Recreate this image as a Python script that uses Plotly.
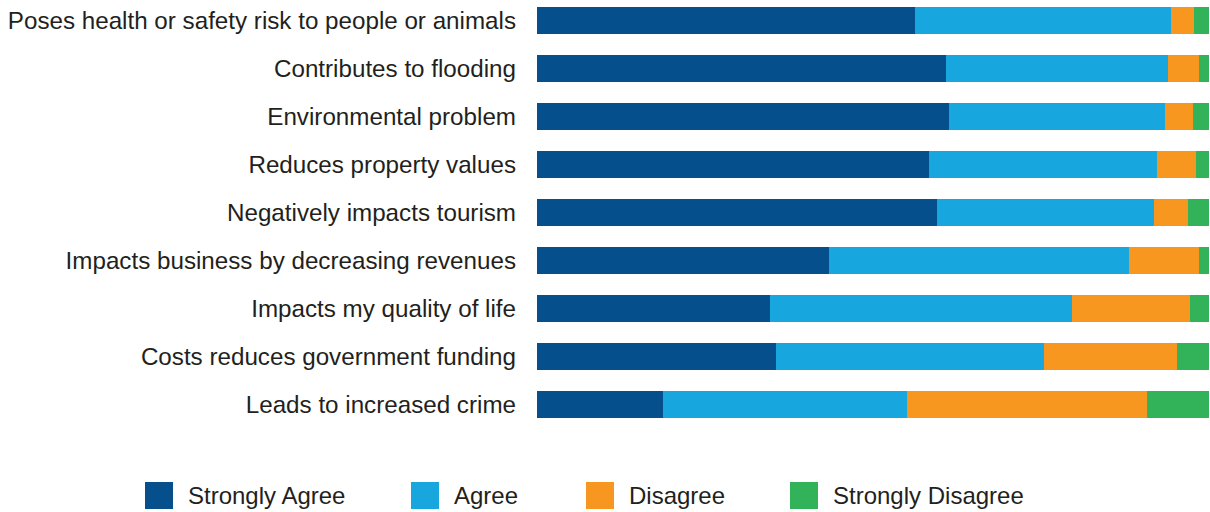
import plotly.graph_objects as go

categories = [
    "Poses health or safety risk to people or animals",
    "Contributes to flooding",
    "Environmental problem",
    "Reduces property values",
    "Negatively impacts tourism",
    "Impacts business by decreasing revenues",
    "Impacts my quality of life",
    "Costs reduces government funding",
    "Leads to increased crime",
]
series_names = ["Strongly Agree", "Agree", "Disagree", "Strongly Disagree"]
strongly_agree = [56.3, 60.9, 61.3, 58.3, 59.5, 43.5, 34.7, 35.6, 18.8]
agree = [38.1, 33.0, 32.1, 33.9, 32.3, 44.6, 44.9, 39.9, 36.2]
disagree = [3.3, 4.6, 4.2, 5.8, 5.1, 10.4, 17.6, 19.8, 35.7]
strongly_disagree = [2.3, 1.5, 2.4, 2.0, 3.1, 1.5, 2.8, 4.7, 9.3]
colors = ["#05508C", "#18A6DF", "#F7971F", "#32B35A"]

values = [strongly_agree, agree, disagree, strongly_disagree]
ypos = list(range(len(categories)))

fig = go.Figure()
for name, vals, col in zip(series_names, values, colors):
    fig.add_trace(go.Bar(
        y=ypos, x=vals, name=name, orientation="h",
        marker=dict(color=col, line=dict(width=0)),
        width=0.5625, showlegend=False,
    ))

W, H = 1210, 512
ml, mr, mt, mb = 537, 1, 0, 84
plot_w = W - ml - mr
plot_h = H - mt - mb

# custom legend (large square swatches)
legend_sw_x = [145, 411, 586, 790]
shapes = []
annotations = []
for name, col, px in zip(series_names, colors, legend_sw_x):
    x0 = (px - ml) / plot_w
    x1 = (px + 28 - ml) / plot_w
    y0 = (plot_h - 509) / plot_h
    y1 = (plot_h - 482) / plot_h
    shapes.append(dict(type="rect", xref="paper", yref="paper", x0=x0, x1=x1, y0=y0, y1=y1,
                       fillcolor=col, line=dict(width=0)))
    annotations.append(dict(xref="paper", yref="paper", x=(px + 41 - ml) / plot_w,
                            y=(plot_h - 495.5) / plot_h, text=name, showarrow=False,
                            xanchor="left", yanchor="middle",
                            font=dict(size=24, color="#231F20")))

fig.update_layout(
    barmode="stack",
    width=W, height=H,
    margin=dict(l=ml, r=mr, t=mt, b=mb, pad=0),
    paper_bgcolor="white", plot_bgcolor="white",
    font=dict(family="Liberation Sans, Arial, sans-serif", size=24, color="#231F20"),
    xaxis=dict(range=[0, 100], visible=False, showgrid=False, zeroline=False),
    yaxis=dict(
        tickmode="array", tickvals=ypos, ticktext=categories,
        range=[8.49, -0.427], showgrid=False, zeroline=False, showline=False,
        ticks="", ticklabelstandoff=20,
        tickfont=dict(size=24.2, color="#231F20"),
    ),
    shapes=shapes,
    annotations=annotations,
)

fig.write_html(
    "out.html",
    config={"displayModeBar": False},
    post_script="document.body.style.margin='0';document.body.style.overflow='hidden';",
)
